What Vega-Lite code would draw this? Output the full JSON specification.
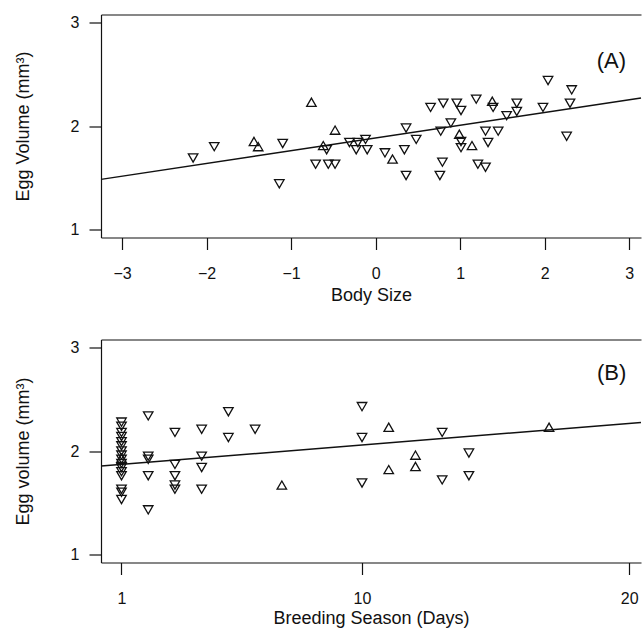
{
  "$schema": "https://vega.github.io/schema/vega-lite/v6.json",
  "padding": {"left": 14, "top": 14.5, "right": 1, "bottom": 0},
  "background": "white",
  "config": {
    "font": "Liberation Sans",
    "view": {"stroke": null},
    "axis": {
      "grid": false,
      "domainColor": "#111",
      "domainWidth": 1.2,
      "tickColor": "#111",
      "tickWidth": 1.2,
      "tickSize": 12,
      "labelFont": "Liberation Sans",
      "labelFontSize": 16,
      "labelColor": "#111",
      "titleFont": "Liberation Sans",
      "titleFontSize": 18,
      "titleFontWeight": "normal",
      "titleColor": "#111"
    }
  },
  "datasets": {
    "a": [
      {"size": -2.16, "volume": 1.69, "dir": "down"},
      {"size": -1.91, "volume": 1.80, "dir": "down"},
      {"size": -1.10, "volume": 1.83, "dir": "down"},
      {"size": -1.14, "volume": 1.44, "dir": "down"},
      {"size": -0.71, "volume": 1.63, "dir": "down"},
      {"size": -0.56, "volume": 1.63, "dir": "down"},
      {"size": -0.48, "volume": 1.63, "dir": "down"},
      {"size": -0.58, "volume": 1.77, "dir": "down"},
      {"size": -0.31, "volume": 1.84, "dir": "down"},
      {"size": -0.23, "volume": 1.77, "dir": "down"},
      {"size": -0.21, "volume": 1.84, "dir": "down"},
      {"size": -0.12, "volume": 1.87, "dir": "down"},
      {"size": -0.10, "volume": 1.77, "dir": "down"},
      {"size": 0.11, "volume": 1.74, "dir": "down"},
      {"size": 0.36, "volume": 1.98, "dir": "down"},
      {"size": 0.34, "volume": 1.77, "dir": "down"},
      {"size": 0.36, "volume": 1.52, "dir": "down"},
      {"size": 0.48, "volume": 1.87, "dir": "down"},
      {"size": 0.65, "volume": 2.18, "dir": "down"},
      {"size": 0.80, "volume": 2.22, "dir": "down"},
      {"size": 0.77, "volume": 1.95, "dir": "down"},
      {"size": 0.79, "volume": 1.65, "dir": "down"},
      {"size": 0.76, "volume": 1.52, "dir": "down"},
      {"size": 0.89, "volume": 2.03, "dir": "down"},
      {"size": 0.96, "volume": 2.22, "dir": "down"},
      {"size": 1.01, "volume": 2.15, "dir": "down"},
      {"size": 1.01, "volume": 1.85, "dir": "down"},
      {"size": 1.01, "volume": 1.79, "dir": "down"},
      {"size": 1.19, "volume": 2.26, "dir": "down"},
      {"size": 1.21, "volume": 1.63, "dir": "down"},
      {"size": 1.30, "volume": 1.60, "dir": "down"},
      {"size": 1.30, "volume": 1.95, "dir": "down"},
      {"size": 1.33, "volume": 1.84, "dir": "down"},
      {"size": 1.39, "volume": 2.18, "dir": "down"},
      {"size": 1.45, "volume": 1.95, "dir": "down"},
      {"size": 1.55, "volume": 2.10, "dir": "down"},
      {"size": 1.67, "volume": 2.22, "dir": "down"},
      {"size": 1.67, "volume": 2.14, "dir": "down"},
      {"size": 1.98, "volume": 2.18, "dir": "down"},
      {"size": 2.04, "volume": 2.44, "dir": "down"},
      {"size": 2.32, "volume": 2.35, "dir": "down"},
      {"size": 2.30, "volume": 2.22, "dir": "down"},
      {"size": 2.26, "volume": 1.90, "dir": "down"},
      {"size": -0.76, "volume": 2.23, "dir": "up"},
      {"size": -1.44, "volume": 1.85, "dir": "up"},
      {"size": -1.39, "volume": 1.80, "dir": "up"},
      {"size": -0.48, "volume": 1.96, "dir": "up"},
      {"size": -0.62, "volume": 1.81, "dir": "up"},
      {"size": 0.20, "volume": 1.68, "dir": "up"},
      {"size": 0.99, "volume": 1.92, "dir": "up"},
      {"size": 1.14, "volume": 1.81, "dir": "up"},
      {"size": 1.38, "volume": 2.24, "dir": "up"}
    ],
    "aline": [
      {"size": -3.25, "volume": 1.483},
      {"size": 3.14, "volume": 2.271}
    ],
    "alabel": [
      {"size": 2.79, "volume": 2.63, "label": "(A)"}
    ],
    "b": [
      {"days": 1, "volume": 2.28, "dir": "down"},
      {"days": 1, "volume": 2.24, "dir": "down"},
      {"days": 1, "volume": 2.18, "dir": "down"},
      {"days": 1, "volume": 2.14, "dir": "down"},
      {"days": 1, "volume": 2.09, "dir": "down"},
      {"days": 1, "volume": 2.05, "dir": "down"},
      {"days": 1, "volume": 2.00, "dir": "down"},
      {"days": 1, "volume": 1.96, "dir": "down"},
      {"days": 1, "volume": 1.92, "dir": "down"},
      {"days": 1, "volume": 1.88, "dir": "down"},
      {"days": 1, "volume": 1.84, "dir": "down"},
      {"days": 1, "volume": 1.80, "dir": "down"},
      {"days": 1, "volume": 1.76, "dir": "down"},
      {"days": 1, "volume": 1.63, "dir": "down"},
      {"days": 1, "volume": 1.60, "dir": "down"},
      {"days": 1, "volume": 1.53, "dir": "down"},
      {"days": 1, "volume": 1.93, "dir": "up"},
      {"days": 2, "volume": 2.34, "dir": "down"},
      {"days": 2, "volume": 1.95, "dir": "down"},
      {"days": 2, "volume": 1.92, "dir": "down"},
      {"days": 2, "volume": 1.76, "dir": "down"},
      {"days": 2, "volume": 1.43, "dir": "down"},
      {"days": 3, "volume": 2.18, "dir": "down"},
      {"days": 3, "volume": 1.87, "dir": "down"},
      {"days": 3, "volume": 1.76, "dir": "down"},
      {"days": 3, "volume": 1.67, "dir": "down"},
      {"days": 3, "volume": 1.63, "dir": "down"},
      {"days": 4, "volume": 2.21, "dir": "down"},
      {"days": 4, "volume": 1.95, "dir": "down"},
      {"days": 4, "volume": 1.84, "dir": "down"},
      {"days": 4, "volume": 1.63, "dir": "down"},
      {"days": 5, "volume": 2.38, "dir": "down"},
      {"days": 5, "volume": 2.13, "dir": "down"},
      {"days": 6, "volume": 2.21, "dir": "down"},
      {"days": 7, "volume": 1.67, "dir": "up"},
      {"days": 10, "volume": 2.43, "dir": "down"},
      {"days": 10, "volume": 2.13, "dir": "down"},
      {"days": 10, "volume": 1.69, "dir": "down"},
      {"days": 11, "volume": 2.23, "dir": "up"},
      {"days": 11, "volume": 1.82, "dir": "up"},
      {"days": 12, "volume": 1.96, "dir": "up"},
      {"days": 12, "volume": 1.85, "dir": "up"},
      {"days": 13, "volume": 2.18, "dir": "down"},
      {"days": 13, "volume": 1.72, "dir": "down"},
      {"days": 14, "volume": 1.98, "dir": "down"},
      {"days": 14, "volume": 1.76, "dir": "down"},
      {"days": 17, "volume": 2.23, "dir": "up"}
    ],
    "bline": [
      {"days": 0.24, "volume": 1.855},
      {"days": 20.44, "volume": 2.277}
    ],
    "blabel": [
      {"days": 19.34, "volume": 2.76, "label": "(B)"}
    ]
  },
  "spacing": 102,
  "bounds": "flush",
  "vconcat": [
    {
      "width": 540,
      "height": 223,
      "resolve": {"axis": {"x": "independent"}},
      "layer": [
        {
          "data": {"name": "a"},
          "mark": {"type": "point", "filled": false, "stroke": "#111", "strokeWidth": 1.3, "size": 90, "opacity": 1},
          "encoding": {
            "x": {
              "field": "size", "type": "quantitative",
              "scale": {"domain": [-3.25, 3.14], "nice": false, "zero": false},
              "axis": {"orient": "bottom", "values": [-3, -2, -1, 0, 1, 2, 3], "format": "d", "labelPadding": 16, "title": "Body Size", "titleY": 63, "titleBaseline": "alphabetic"}
            },
            "y": {
              "field": "volume", "type": "quantitative",
              "scale": {"domain": [0.92, 3.08], "nice": false, "zero": false},
              "axis": {"values": [1, 2, 3], "format": "d", "labelPadding": 10, "title": "Egg Volume (mm³)", "titleAngle": -90, "titleX": -72.5, "titleY": 111.5, "titleAlign": "center", "titleBaseline": "alphabetic"}
            },
            "shape": {"field": "dir", "type": "nominal", "scale": {"domain": ["down", "up"], "range": ["triangle-down", "triangle-up"]}, "legend": null}
          }
        },
        {
          "data": {"name": "aline"},
          "mark": {"type": "line", "color": "#111", "strokeWidth": 1.5},
          "encoding": {
            "x": {"field": "size", "type": "quantitative", "axis": {"orient": "top", "labels": false, "ticks": false, "title": null, "domain": true}},
            "y": {"field": "volume", "type": "quantitative"}
          }
        },
        {
          "data": {"name": "alabel"},
          "mark": {"type": "text", "fontSize": 22, "align": "center", "baseline": "middle", "color": "#111", "font": "Liberation Sans"},
          "encoding": {
            "x": {"field": "size", "type": "quantitative", "axis": null},
            "y": {"field": "volume", "type": "quantitative"},
            "text": {"field": "label"}
          }
        }
      ]
    },
    {
      "width": 540,
      "height": 223,
      "resolve": {"axis": {"x": "independent"}},
      "layer": [
        {
          "data": {"name": "b"},
          "mark": {"type": "point", "filled": false, "stroke": "#111", "strokeWidth": 1.3, "size": 90, "opacity": 1},
          "encoding": {
            "x": {
              "field": "days", "type": "quantitative",
              "scale": {"domain": [0.233, 20.44], "nice": false, "zero": false},
              "axis": {"orient": "bottom", "values": [1, 10, 20], "format": "d", "labelPadding": 16, "title": "Breeding Season (Days)", "titleY": 61, "titleBaseline": "alphabetic"}
            },
            "y": {
              "field": "volume", "type": "quantitative",
              "scale": {"domain": [0.92, 3.08], "nice": false, "zero": false},
              "axis": {"values": [1, 2, 3], "format": "d", "labelPadding": 10, "title": "Egg volume (mm³)", "titleAngle": -90, "titleX": -72.5, "titleY": 111.5, "titleAlign": "center", "titleBaseline": "alphabetic"}
            },
            "shape": {"field": "dir", "type": "nominal", "scale": {"domain": ["down", "up"], "range": ["triangle-down", "triangle-up"]}, "legend": null}
          }
        },
        {
          "data": {"name": "bline"},
          "mark": {"type": "line", "color": "#111", "strokeWidth": 1.5},
          "encoding": {
            "x": {"field": "days", "type": "quantitative", "axis": {"orient": "top", "labels": false, "ticks": false, "title": null, "domain": true}},
            "y": {"field": "volume", "type": "quantitative"}
          }
        },
        {
          "data": {"name": "blabel"},
          "mark": {"type": "text", "fontSize": 22, "align": "center", "baseline": "middle", "color": "#111", "font": "Liberation Sans"},
          "encoding": {
            "x": {"field": "days", "type": "quantitative", "axis": null},
            "y": {"field": "volume", "type": "quantitative"},
            "text": {"field": "label"}
          }
        }
      ]
    }
  ]
}
